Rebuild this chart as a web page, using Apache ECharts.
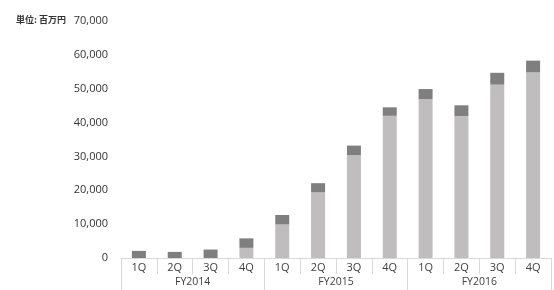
<!DOCTYPE html>
<html><head><meta charset="utf-8">
<script src="https://cdn.jsdelivr.net/npm/echarts@6/dist/echarts.min.js"></script>
<style>html,body{margin:0;padding:0;background:#fff}#c{width:554px;height:290px}</style>
</head><body><div id="c"></div>
<script>
var quarters = ['1Q','2Q','3Q','4Q','1Q','2Q','3Q','4Q','1Q','2Q','3Q','4Q'];
var years = ['FY2014','FY2015','FY2016'];
var baseValues = [0, 0, 0, 3000, 9900, 19400, 30400, 42000, 46900, 41900, 51200, 54900];
var topValues = [2100, 1800, 2500, 2800, 2800, 2700, 2800, 2500, 3000, 3200, 3500, 3400];
var unitLabel = '単位: 百万円';

var chart = echarts.init(document.getElementById('c'), null, {renderer:'canvas'});
var font = '"Open Sans", "Liberation Sans", sans-serif';
chart.setOption({
  animation:false,
  grid:{left:121, right:3, top:21, bottom:32},
  graphic:[{type:'text', left:16, top:15, style:{text:unitLabel, font:'bold 9px "Noto Sans CJK JP", sans-serif', fill:'#333333'}}],
  xAxis:[{
    type:'category', data:quarters, position:'bottom',
    axisLine:{show:true, lineStyle:{color:'#d9d9d9'}},
    axisTick:{show:true, interval:0, length:16, lineStyle:{color:'#d9d9d9'}},
    axisLabel:{interval:0, margin:4, color:'#404040', fontSize:11, fontFamily:font}
  },{
    type:'category', data:years, position:'bottom', gridIndex:0,
    axisLine:{show:false},
    axisTick:{show:true, interval:0, length:32, lineStyle:{color:'#d9d9d9'}},
    axisLabel:{interval:0, margin:19, color:'#404040', fontSize:10.5, fontFamily:font}
  }],
  yAxis:{
    type:'value', min:0, max:70000, interval:10000,
    axisLine:{show:false}, axisTick:{show:false}, splitLine:{show:false},
    axisLabel:{margin:13, color:'#333333', fontSize:11, fontFamily:font,
      formatter:function(v){return v.toLocaleString('en-US');}}
  },
  series:[
    {type:'bar', stack:'a', data:baseValues, barWidth:14, itemStyle:{color:'#bfbdbe'}},
    {type:'bar', stack:'a', data:topValues, barWidth:14, itemStyle:{color:'#7f7f7f'}}
  ]
});
</script></body></html>
